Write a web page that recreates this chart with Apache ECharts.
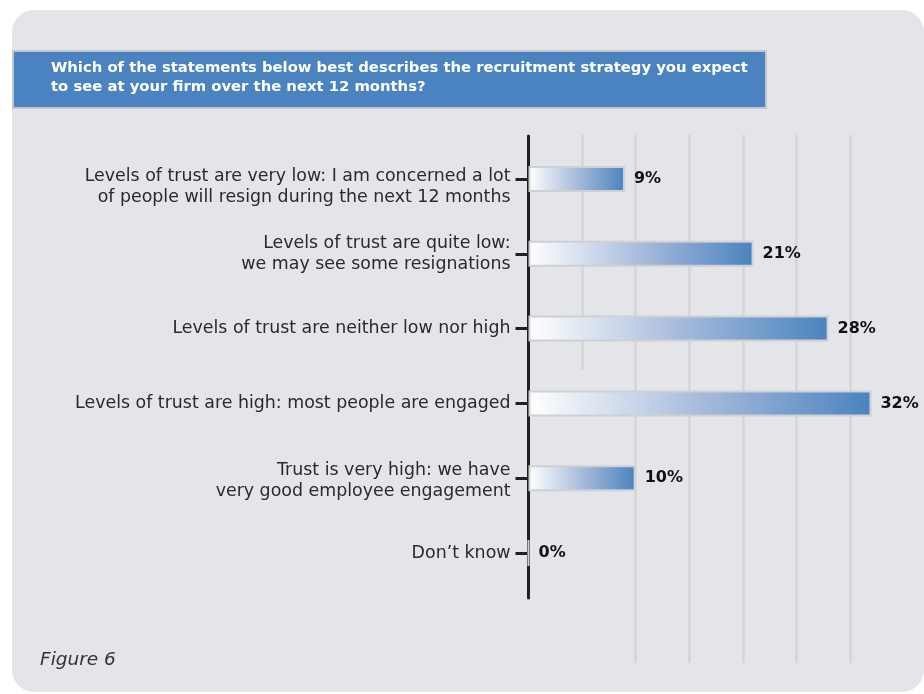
<!DOCTYPE html>
<html>
<head>
<meta charset="utf-8">
<style>
  html, body { margin: 0; padding: 0; background: #ffffff; }
  #chart { width: 924px; height: 694px; }
</style>
<script src="https://cdn.jsdelivr.net/npm/echarts@6/dist/echarts.min.js"></script>
</head>
<body>
<div id="chart"></div>
<script>
// Survey question and answers
const questionText = 'Which of the statements below best describes the recruitment strategy you expect\nto see at your firm over the next 12 months?';
const figureCaption = 'Figure 6';

const categories = [
  'Levels of trust are very low: I am concerned a lot\nof people will resign during the next 12 months',
  'Levels of trust are quite low:\nwe may see some resignations',
  'Levels of trust are neither low nor high',
  'Levels of trust are high: most people are engaged',
  'Trust is very high: we have\nvery good employee engagement',
  'Don\u2019t know'
];
const shares = [9, 21, 28, 32, 10, 0];   // percent of respondents
const axisMax = 35;
const tickStep = 5;

const chart = echarts.init(document.getElementById('chart'), null, { renderer: 'canvas' });

const LEFT = 528.5, RIGHT = 20.4;
const clear = 'rgba(0,0,0,0)';
const gridGrey = '#d3d4d8';
const labelFont = 'DejaVu Sans';
const labelSize = 17.4;

const barGradient = new echarts.graphic.LinearGradient(0, 0, 1, 0, [
  { offset: 0, color: '#ffffff' },
  { offset: 0.5, color: '#a7bbdb' },
  { offset: 1, color: '#4a83bf' }
]);

const valueAxis = (gridIndex, lineColors) => ({
  type: 'value', gridIndex, min: 0, max: axisMax, interval: tickStep,
  axisLine: { show: false }, axisTick: { show: false }, axisLabel: { show: false },
  splitLine: { show: !!lineColors, lineStyle: { color: lineColors || gridGrey, width: 2.5 } }
});

// Some wrapped answers hang below their tick: an invisible spacer line above them
const spacerHeight = [15.5, 0, 0, 0, 6, 0];
const rich = {
  n: { color: '#2a2a2a', fontFamily: labelFont, fontSize: labelSize, lineHeight: 21.5, align: 'right' }
};
spacerHeight.forEach((h, i) => {
  if (h) rich['s' + i] = { fontSize: 1, lineHeight: h, align: 'right' };
});

chart.setOption({
  animation: false,
  backgroundColor: '#ffffff',
  title: {
    text: questionText,
    left: 51, top: 59, padding: 0,
    textStyle: { color: '#ffffff', fontFamily: labelFont, fontWeight: 'bold', fontSize: 14.8, lineHeight: 19 }
  },
  graphic: [
    { type: 'rect', z: -10, shape: { x: 12, y: 10, width: 912, height: 682, r: 22 }, style: { fill: '#e4e5e9' } },
    { type: 'rect', z: -5, shape: { x: 13, y: 51, width: 753, height: 57 }, style: { fill: '#4a83bf', stroke: '#c3c6cc', lineWidth: 2 } },
    { type: 'text', left: 40, top: 651, style: { text: figureCaption, fill: '#333333', font: 'italic 18.5px "DejaVu Sans"' } }
  ],
  grid: [
    { left: LEFT, right: RIGHT, top: 141.6, bottom: 103.6 },   // bars
    { left: LEFT, right: RIGHT, top: 135, bottom: 31 },        // long gridlines
    { left: LEFT, right: RIGHT, top: 135, bottom: 324 },       // short 5% gridline
    { left: LEFT, right: RIGHT, top: 136, bottom: 96 }         // vertical axis line
  ],
  xAxis: [
    Object.assign(valueAxis(0, null), { show: false }),
    valueAxis(1, [clear, clear, gridGrey, gridGrey, gridGrey, gridGrey, gridGrey, clear]),
    valueAxis(2, [clear, gridGrey, clear, clear, clear, clear, clear, clear]),
    Object.assign(valueAxis(3, null), { show: false })
  ],
  yAxis: [
    {
      type: 'category', gridIndex: 0, inverse: true, data: categories,
      axisLine: { show: false },
      axisTick: { show: true, alignWithLabel: true, length: 13, lineStyle: { color: '#231f20', width: 3 } },
      axisLabel: {
        margin: 18, color: '#2a2a2a', fontFamily: labelFont, fontSize: labelSize, lineHeight: 21.5, align: 'right',
        formatter: (value, index) => (spacerHeight[index] ? '{s' + index + '| }\n' : '') +
          value.split('\n').map((line) => '{n|' + line + '}').join('\n'),
        rich: rich
      }
    },
    { type: 'value', gridIndex: 1, show: false },
    { type: 'value', gridIndex: 2, show: false },
    {
      type: 'value', gridIndex: 3, splitLine: { show: false }, axisTick: { show: false }, axisLabel: { show: false },
      axisLine: { show: true, lineStyle: { color: '#231f20', width: 3 } }
    }
  ],
  series: [{
    type: 'bar', xAxisIndex: 0, yAxisIndex: 0, z: 5,
    data: shares, barWidth: 26,
    itemStyle: { color: barGradient, borderColor: '#cfd0d4', borderWidth: 2 },
    label: {
      show: true, position: 'right', distance: 9, formatter: '{c}%',
      color: '#111111', fontFamily: labelFont, fontSize: 16, fontWeight: 600
    }
  }]
});
</script>
</body>
</html>
